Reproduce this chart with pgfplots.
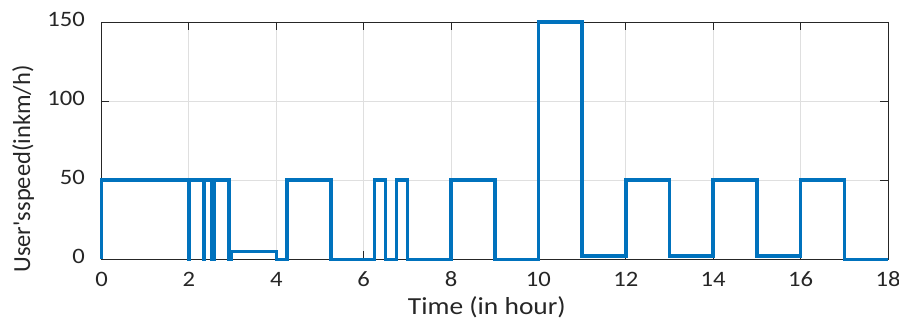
\documentclass[border=0pt]{standalone}
\usepackage{fontspec}
\setmainfont[FakeStretch=1.12]{Carlito}
\newfontfamily\ylfont{Carlito}
\usepackage{pgfplots}
\pgfplotsset{compat=1.18}
\definecolor{mblue}{HTML}{0072BD}
\definecolor{mgray}{HTML}{262626}
\definecolor{mgrid}{HTML}{DFDFDF}
\begin{document}
\begin{tikzpicture}
\begin{axis}[
  at={(0,0)}, anchor=south west, scale only axis,
  width=786.5bp, height=237.3bp,
  xmin=0, xmax=18, ymin=0, ymax=150,
  xtick={0,2,...,18}, ytick={0,50,100,150},
  grid=major, major grid style={mgrid, line width=0.8bp},
  axis line style={mgray, line width=0.8bp},
  tick style={mgray, line width=0.8bp},
  major tick length=8bp,
  tick align=inside,
  clip=false,
  /pgf/number format/assume math mode=true,
  ticklabel style={font=\fontsize{22bp}{26bp}\selectfont, text=mgray, inner sep=0pt},
  xticklabel style={yshift=-12.4bp},
  yticklabel style={xshift=-16.5bp, yshift=3bp},
  xlabel={Time (in hour)},
  xlabel style={at={(axis description cs:0.49,0)}, anchor=base, yshift=-55bp, inner sep=0pt, font=\fontsize{24.5bp}{28bp}\selectfont, text=mgray},
  ylabel={\ylfont User\textquotesingle sspeed(inkm/h)},
  ylabel style={at={(axis description cs:-0.0909,0.3805)}, anchor=base, inner sep=0pt, font=\fontsize{24.5bp}{28bp}\selectfont, text=mgray},
]
\addplot[mblue, line width=3.5bp] coordinates {
(0,0)(0,50)(2.0,50)(2.0,0)(2.01,0)(2.01,50)
(2.33,50)(2.33,0)(2.35,0)(2.35,50)
(2.52,50)(2.52,0)(2.57,0)(2.57,50)
(2.92,50)(2.92,0)(2.98,0)(2.98,5)
(4.0,5)(4.0,0)(4.25,0)(4.25,50)
(5.25,50)(5.25,0)(6.25,0)(6.25,50)
(6.5,50)(6.5,0)(6.75,0)(6.75,50)
(7.0,50)(7.0,0)(8.0,0)(8.0,50)
(9.0,50)(9.0,0)(10.0,0)(10.0,150)
(11.0,150)(11.0,2)(12.0,2)(12.0,50)
(13.0,50)(13.0,2)(14.0,2)(14.0,50)
(15.0,50)(15.0,2)(16.0,2)(16.0,50)
(17.0,50)(17.0,0)(18.0,0)
};
\end{axis}
\pgfresetboundingbox
\path (-101.5bp,-62.7bp) rectangle (797.5bp,259.3bp);
\end{tikzpicture}
\end{document}
